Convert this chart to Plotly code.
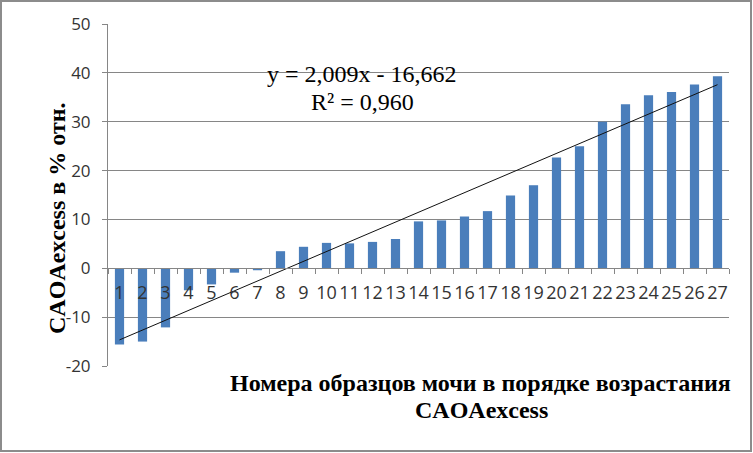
import plotly.graph_objects as go

categories = [str(i) for i in range(1, 28)]
values = [-15.6, -15.0, -12.1, -4.5, -3.3, -0.9, -0.4, 3.5, 4.4, 5.2, 5.1, 5.4, 6.0,
          9.6, 9.8, 10.6, 11.7, 14.9, 17.0, 22.7, 25.0, 30.0, 33.6, 35.4, 36.1, 37.6, 39.3]
trend_slope = 2.009
trend_intercept = -16.662
r_squared = "0,960"
y_ticks = [-20, -10, 0, 10, 20, 30, 40, 50]
y_tick_labels = [str(v) for v in y_ticks]

W, H = 753, 453
L, R, T, B = 108, 24, 24, 87
pw, ph = W - L - R, H - T - B
ymin, ymax = -20, 50

trend_x = [categories[0], categories[-1]]
trend_y = [trend_slope * 1 + trend_intercept, trend_slope * len(categories) + trend_intercept]

fig = go.Figure()
fig.add_trace(go.Bar(x=categories, y=values, marker=dict(color="#4A7EBB", line=dict(width=0)),
                     showlegend=False))
fig.add_trace(go.Scatter(x=trend_x, y=trend_y, mode="lines",
                         line=dict(color="#111111", width=1), showlegend=False))

serif = "Liberation Serif, Times New Roman, serif"
sans = "Open Sans, Liberation Sans, sans-serif"

fig.update_layout(
    width=W, height=H,
    margin=dict(l=L, r=R, t=T, b=B),
    paper_bgcolor="white", plot_bgcolor="white",
    bargap=0.6,
    xaxis=dict(type="category", categoryorder="array", categoryarray=categories,
               anchor="free", position=(0 - ymin) / (ymax - ymin),
               showline=True, linecolor="#868686", linewidth=1,
               ticks="outside", tickson="boundaries", ticklen=5, tickcolor="#868686",
               tickangle=0, showgrid=False, ticklabelstandoff=8,
               tickfont=dict(family=sans, size=18, color="#333333")),
    yaxis=dict(range=[ymin, ymax], tickvals=y_ticks, ticktext=y_tick_labels,
               showgrid=True, gridcolor="#868686",
               gridwidth=1, zeroline=False, showline=True, linecolor="#868686",
               ticks="outside", ticklen=5, tickcolor="#868686", ticklabelstandoff=8,
               tickfont=dict(family=sans, size=17, color="#333333")),
)

def px_x(x):
    return (x - L) / pw

def px_y(y):
    return (H - B - y) / ph

fig.add_annotation(xref="paper", yref="paper", x=px_x(42), y=px_y(218),
                   text="<b>CAOAexcess в % отн.</b>", textangle=-90, showarrow=False,
                   font=dict(family=serif, size=24, color="black"))
fig.add_annotation(xref="paper", yref="paper", x=px_x(362), y=px_y(59),
                   text="y = 2,009x - 16,662", showarrow=False,
                   font=dict(family=serif, size=24, color="black"))
fig.add_annotation(xref="paper", yref="paper", x=px_x(362), y=px_y(87),
                   text="R² = " + r_squared, showarrow=False,
                   font=dict(family=serif, size=24, color="black"))
fig.add_annotation(xref="paper", yref="paper", x=px_x(480), y=px_y(398),
                   text="<b>Номера образцов мочи в порядке возрастания</b>",
                   showarrow=False, font=dict(family=serif, size=24, color="black"))
fig.add_annotation(xref="paper", yref="paper", x=px_x(481), y=px_y(425),
                   text="<b>CAOAexcess</b>",
                   showarrow=False, font=dict(family=serif, size=24, color="black"))

fig.add_shape(type="rect", xref="paper", yref="paper",
              x0=px_x(1), x1=px_x(W - 2), y0=px_y(H - 2), y1=px_y(1),
              line=dict(color="#8C8C8C", width=2))

fig.write_html("out.html", config={"displayModeBar": False},
               post_script="document.body.style.margin='0';")
